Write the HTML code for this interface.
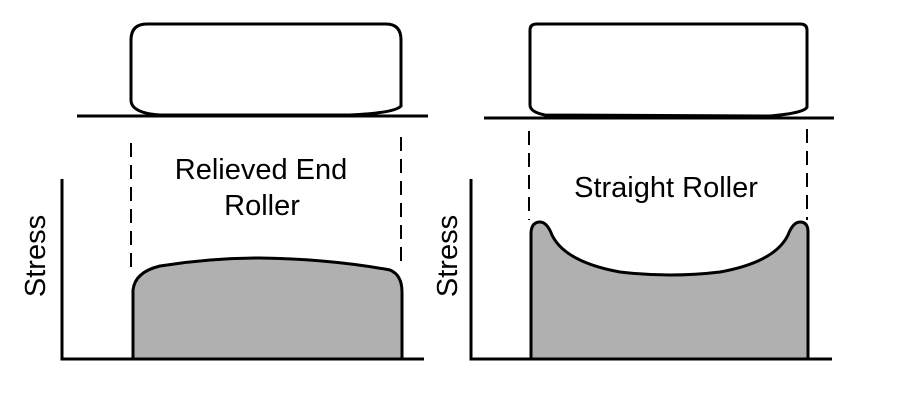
<!DOCTYPE html>
<html><head><style>
html,body{margin:0;padding:0;background:#fff;}
svg{display:block;}
text{font-family:"Liberation Sans",Arial,sans-serif;fill:#000;}
</style></head><body>
<svg width="900" height="414" viewBox="0 0 900 414">
<g fill="none" stroke="#000" stroke-width="3">
<path d="M131 40 Q131 24 147 24 L386 24 Q401 24 401 40 L401 106 Q395 113 350 115 L160 115 Q131 113 131 100 Z" fill="#fff"/>
<line x1="77" y1="116" x2="428" y2="116"/>
<path d="M530 30 Q530 24 537 24 L800 24 Q807 24 807 30 L807 107 Q805 113 770 116 L545 115 Q530 112 530 105 Z" fill="#fff"/>
<line x1="484" y1="118" x2="834" y2="118"/>
</g>
<g stroke="#000" stroke-width="2" stroke-dasharray="14,8" fill="none">
<line x1="131" y1="143" x2="131" y2="272"/>
<line x1="401" y1="137" x2="401" y2="268"/>
<line x1="529" y1="131" x2="529" y2="220"/>
<line x1="807" y1="129" x2="807" y2="220"/>
</g>
<path d="M133 359 L133 290 Q135 272 160 266 Q210 258 260 258 Q330 259 390 270 Q402 275 402 292 L402 359 Z" fill="#b0b0b0" stroke="#000" stroke-width="3"/>
<path d="M531 359 L531 232 Q532 222 540 222 Q547 222 552 235 Q565 262 620 272 Q670 278 720 272 Q775 262 788 235 Q793 222 800 222 Q808 222 808 232 L808 359 Z" fill="#b0b0b0" stroke="#000" stroke-width="3"/>
<g stroke="#000" stroke-width="3" fill="none">
<polyline points="62,179 62,359 424,359"/>
<polyline points="471,179 471,359 832,359"/>
</g>
<text x="261" y="179" font-size="29" text-anchor="middle">Relieved End</text>
<text x="262" y="215" font-size="29" text-anchor="middle">Roller</text>
<text x="666" y="197" font-size="29" text-anchor="middle">Straight Roller</text>
<text transform="translate(45,256) rotate(-90)" font-size="29" text-anchor="middle">Stress</text>
<text transform="translate(457,256) rotate(-90)" font-size="29" text-anchor="middle">Stress</text>
</svg>
</body></html>
